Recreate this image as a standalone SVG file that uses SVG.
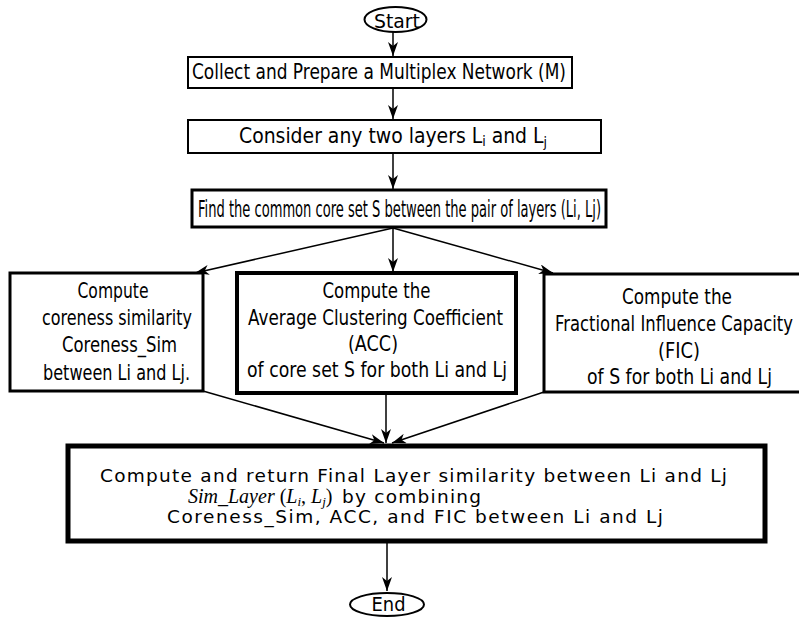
<svg xmlns="http://www.w3.org/2000/svg" width="799" height="618" viewBox="0 0 799 618">
<style>
  .box { fill: #fff; stroke: #000; }
  .t { font-family: "DejaVu Sans", Verdana, sans-serif; fill: #000; }
  .m { font-family: "Liberation Serif", "Times New Roman", serif; font-style: italic; fill: #000; }
  .c { stroke: #000; stroke-width: 1.5; fill: none; marker-end: url(#ah); }
</style>
<defs>
  <marker id="ah" viewBox="0 0 14 10" refX="14" refY="5" markerWidth="14" markerHeight="10" markerUnits="userSpaceOnUse" orient="auto">
    <path d="M0,0 L14,5 L0,10 L4,5 z" fill="#000"/>
  </marker>
</defs>
<rect width="799" height="618" fill="#fff"/>

<g id="connectors">
  <line class="c" x1="393" y1="32" x2="393" y2="56"/>
  <line class="c" x1="393" y1="89" x2="393" y2="119"/>
  <line class="c" x1="393" y1="154" x2="393" y2="189"/>
  <line class="c" x1="393" y1="228" x2="195" y2="273"/>
  <line class="c" x1="393" y1="228" x2="393" y2="272"/>
  <line class="c" x1="393" y1="228" x2="553" y2="273"/>
  <line class="c" x1="203" y1="391" x2="384" y2="443"/>
  <line class="c" x1="386" y1="395" x2="386" y2="443"/>
  <line class="c" x1="544" y1="392" x2="392" y2="443"/>
  <line class="c" x1="387" y1="542" x2="387" y2="591"/>
</g>

<g id="start">
  <ellipse cx="395.5" cy="19.5" rx="31" ry="12.5" fill="#fff" stroke="#000" stroke-width="2"/>
  <text class="t" x="397" y="27.5" font-size="20" text-anchor="middle" textLength="46" lengthAdjust="spacingAndGlyphs">Start</text>
</g>

<g id="collect">
  <rect class="box" x="188" y="57" width="384" height="31" stroke-width="2"/>
  <text class="t" x="192" y="79" font-size="21" textLength="374" lengthAdjust="spacingAndGlyphs">Collect and Prepare a Multiplex Network (M)</text>
</g>

<g id="consider">
  <rect class="box" x="188" y="120" width="413" height="33" stroke-width="2"/>
  <text class="t" x="239" y="143" font-size="21" textLength="308" lengthAdjust="spacingAndGlyphs">Consider any two layers L<tspan font-size="14" dy="3">i</tspan><tspan dy="-3"> and L</tspan><tspan font-size="14" dy="4">j</tspan></text>
</g>

<g id="findcore">
  <rect class="box" x="192" y="190" width="414" height="37" stroke-width="3"/>
  <text class="t" x="198" y="217" font-size="23" textLength="403" lengthAdjust="spacingAndGlyphs">Find the common core set S between the pair of layers (Li, Lj)</text>
</g>

<g id="coreness">
  <rect class="box" x="10" y="273" width="193" height="118" stroke-width="3"/>
  <text class="t" x="113" y="298" font-size="22" text-anchor="middle" textLength="71" lengthAdjust="spacingAndGlyphs">Compute</text>
  <text class="t" x="117" y="325" font-size="22" text-anchor="middle" textLength="150" lengthAdjust="spacingAndGlyphs">coreness similarity</text>
  <text class="t" x="119.5" y="352" font-size="22" text-anchor="middle" textLength="115" lengthAdjust="spacingAndGlyphs">Coreness_Sim</text>
  <text class="t" x="116.5" y="380" font-size="22" text-anchor="middle" textLength="147" lengthAdjust="spacingAndGlyphs">between Li and Lj.</text>
</g>

<g id="acc">
  <rect class="box" x="237" y="273" width="279" height="120" stroke-width="4"/>
  <text class="t" x="376.5" y="298" font-size="22" text-anchor="middle" textLength="108" lengthAdjust="spacingAndGlyphs">Compute the</text>
  <text class="t" x="375.5" y="325" font-size="22" text-anchor="middle" textLength="255" lengthAdjust="spacingAndGlyphs">Average Clustering Coefficient</text>
  <text class="t" x="373" y="351" font-size="22" text-anchor="middle" textLength="50" lengthAdjust="spacingAndGlyphs">(ACC)</text>
  <text class="t" x="377" y="377" font-size="22" text-anchor="middle" textLength="260" lengthAdjust="spacingAndGlyphs">of core set S for both Li and Lj</text>
</g>

<g id="fic">
  <rect class="box" x="544" y="274" width="258" height="118" stroke-width="3"/>
  <text class="t" x="677" y="304" font-size="22" text-anchor="middle" textLength="110" lengthAdjust="spacingAndGlyphs">Compute the</text>
  <text class="t" x="674" y="331" font-size="22" text-anchor="middle" textLength="238" lengthAdjust="spacingAndGlyphs">Fractional Influence Capacity</text>
  <text class="t" x="679" y="358" font-size="22" text-anchor="middle" textLength="42" lengthAdjust="spacingAndGlyphs">(FIC)</text>
  <text class="t" x="679.5" y="384" font-size="22" text-anchor="middle" textLength="185" lengthAdjust="spacingAndGlyphs">of S for both Li and Lj</text>
</g>

<g id="final">
  <rect class="box" x="68" y="446" width="697" height="95" stroke-width="5"/>
  <text class="t" x="100" y="482" font-size="18.5" textLength="627" lengthAdjust="spacing">Compute and return Final Layer similarity between Li and Lj</text>
  <text class="m" x="188" y="503" font-size="20">Sim_Layer <tspan font-style="normal">(</tspan>L<tspan font-size="13" dy="3">i</tspan><tspan font-style="normal" dy="-3">, </tspan>L<tspan font-size="13" dy="3">j</tspan><tspan font-style="normal" dy="-3">)</tspan></text>
  <text class="t" x="342" y="503" font-size="18.5" textLength="139" lengthAdjust="spacing">by combining</text>
  <text class="t" x="167" y="523" font-size="18.5" textLength="496" lengthAdjust="spacing">Coreness_Sim, ACC, and FIC between Li and Lj</text>
</g>

<g id="end">
  <ellipse cx="387" cy="604.5" rx="37" ry="11.5" fill="#fff" stroke="#000" stroke-width="2"/>
  <text class="t" x="388.5" y="611" font-size="19" text-anchor="middle" textLength="34" lengthAdjust="spacingAndGlyphs">End</text>
</g>
</svg>
